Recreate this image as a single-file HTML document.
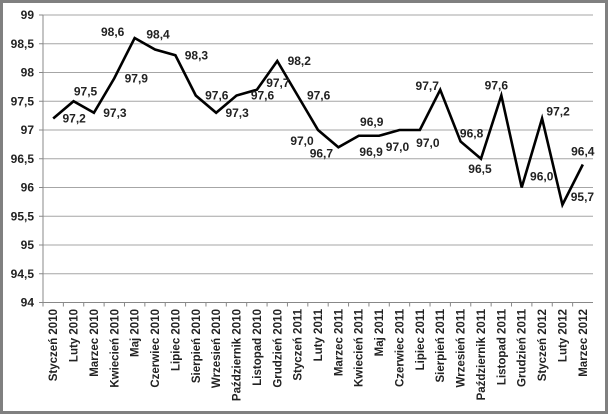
<!DOCTYPE html>
<html><head><meta charset="utf-8"><style>
html,body{margin:0;padding:0;background:#fff;}
svg{display:block;font-family:"Liberation Sans",sans-serif;}
</style></head><body>
<svg id="chart" width="608" height="414" xmlns="http://www.w3.org/2000/svg">
<rect x="1.5" y="1.5" width="605" height="411" fill="#fff" stroke="#808080" stroke-width="3"/>
<g id="grid"></g><g id="axes"></g><g id="series"></g><g id="labels"></g>
</svg>
<script>
const categories=["Styczeń 2010","Luty 2010","Marzec 2010","Kwiecień 2010","Maj 2010","Czerwiec 2010","Lipiec 2010","Sierpień 2010","Wrzesień 2010","Październik 2010","Listopad 2010","Grudzień 2010","Styczeń 2011","Luty 2011","Marzec 2011","Kwiecień 2011","Maj 2011","Czerwiec 2011","Lipiec 2011","Sierpień 2011","Wrzesień 2011","Październik 2011","Listopad 2011","Grudzień 2011","Styczeń 2012","Luty 2012","Marzec 2012"];
const values=[97.2,97.5,97.3,97.9,98.6,98.4,98.3,97.6,97.3,97.6,97.7,98.2,97.6,97.0,96.7,96.9,96.9,97.0,97.0,97.7,96.8,96.5,97.6,96.0,97.2,95.7,96.4];
const yTicks=[94,94.5,95,95.5,96,96.5,97,97.5,98,98.5,99];
const labelDx=[21,12,21,22,-22,3,21,21,21,26,21,22,21,-16,-17,13,-8,-2,8,-13,11,-1,-5,20,16,20,0];
const labelDy=[0,-10,0,0,-6,-15,0,0,0,0,-7,0,0,11,6,-14,16,17,13,-4,-8,10,-10,-11,-7,-8,-13];
const NS="http://www.w3.org/2000/svg";
const L=43,R=593,T=15,B=302.5,yMin=94,yMax=99;
const bw=(R-L)/categories.length;
const xs=i=>L+bw*(i+0.5);
const ys=v=>B-(v-yMin)/(yMax-yMin)*(B-T);
function mk(tag,attrs,parent){const e=document.createElementNS(NS,tag);for(const k in attrs)e.setAttribute(k,attrs[k]);parent.appendChild(e);return e;}
const grid=document.getElementById('grid'),axes=document.getElementById('axes'),series=document.getElementById('series'),labels=document.getElementById('labels');
const fmt=v=>v.toFixed(1).replace('.',',');
yTicks.forEach(t=>{
  const y=ys(t);
  if(t>yMin){const g=mk('line',{x1:L,x2:R,y1:y,y2:y,stroke:'#a6a6a6','stroke-width':1},grid);
  
  }
  const tk=mk('line',{x1:L-4,x2:L,y1:y,y2:y,stroke:'#888'},axes);
  
  
  const tx=mk('text',{x:L-9,y:y+4,'text-anchor':'end','font-size':'12','font-weight':'bold',fill:'#222'},axes);
  tx.textContent=String(t).replace('.',',');
  
  
});
const ya=mk('line',{x1:L,x2:L,y1:T,y2:B,stroke:'#888'},axes);


const xa=mk('line',{x1:L,x2:R,y1:B,y2:B,stroke:'#888'},axes);


categories.forEach((c,i)=>{
  const xt=L+bw*i;
  const tk=mk('line',{x1:xt,x2:xt,y1:B,y2:B+4,stroke:'#888'},axes);
  
  
  const x=xs(i)+4,y=309;
  const tx=mk('text',{x:x,y:y,'text-anchor':'end','font-size':'11.5','font-weight':'bold',fill:'#222',transform:`rotate(-90 ${x} ${y})`},axes);
  tx.textContent=c;
  
  
});
const pts=values.map((v,i)=>xs(i)+','+ys(v)).join(' ');
const pl=mk('polyline',{points:pts,fill:'none',stroke:'#000','stroke-width':2.6,'stroke-linejoin':'miter'},series);


values.forEach((v,i)=>{
  const tx=mk('text',{x:xs(i)+labelDx[i],y:ys(v)+labelDy[i]+4,'text-anchor':'middle','font-size':'12','font-weight':'bold',fill:'#222'},labels);
  tx.textContent=fmt(v);
  
  
});
</script>
</body></html>
